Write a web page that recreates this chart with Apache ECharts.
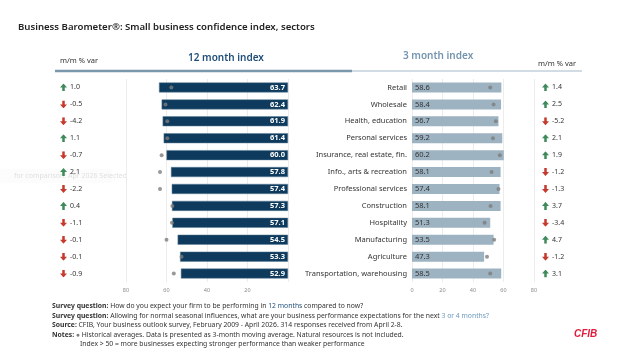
<!DOCTYPE html>
<html><head><meta charset="utf-8">
<script src="https://cdn.jsdelivr.net/npm/echarts@6/dist/echarts.min.js"></script>
<style>html,body{margin:0;padding:0;background:#fff}#c{width:635px;height:362px}</style>
</head><body><div id="c"></div>
<script>
const categories = ['Retail','Wholesale','Health, education','Personal services','Insurance, real estate, fin.','Info., arts & recreation','Professional services','Construction','Hospitality','Manufacturing','Agriculture','Transportation, warehousing'];
const index12 = [63.7,62.4,61.9,61.4,60.0,57.8,57.4,57.3,57.1,54.5,53.3,52.9];
const hist12 = [57.6,60.5,59.6,59.6,62.4,63.2,63.2,57.1,57.3,60.0,52.6,56.4];
const var12 = [1.0,-0.5,-4.2,1.1,-0.7,2.1,-2.2,0.4,-1.1,-0.1,-0.1,-0.9];
const index3 = [58.6,58.4,56.7,59.2,60.2,58.1,57.4,58.1,51.3,53.5,47.3,58.5];
const hist3 = [51.3,53.5,55.0,53.1,57.6,52.2,56.7,51.5,47.6,53.9,49.2,51.3];
const var3 = [1.4,2.5,-5.2,2.1,1.9,-1.2,-1.3,3.7,-3.4,4.7,-1.2,3.1];
const axisTicks = [0,20,40,60,80];

const FF = '"Noto Sans", sans-serif';
function svgUri(s){return 'data:image/svg+xml;charset=utf-8,'+encodeURIComponent(s);}
const upImg = svgUri('<svg xmlns="http://www.w3.org/2000/svg" width="10" height="10" viewBox="0 0 10 10"><polygon points="5,0 10,5 6.8,5 6.8,10 3.2,10 3.2,5 0,5" fill="#3e8a5b"/></svg>');
const dnImg = svgUri('<svg xmlns="http://www.w3.org/2000/svg" width="10" height="10" viewBox="0 0 10 10"><polygon points="5,10 10,5 6.8,5 6.8,0 3.2,0 3.2,5 0,5" fill="#c63a2e"/></svg>');
const varRich = {
  up:{backgroundColor:{image:upImg},width:7,height:8},
  dn:{backgroundColor:{image:dnImg},width:7,height:8},
  v:{fontSize:7,color:'#333',fontFamily:FF,padding:[0,0,0,3]}
};
function varFmt(arr){return function(val, i){const x=arr[i];return (x>=0?'{up|}':'{dn|}')+'{v|'+x.toFixed(1)+'}';};}

const chart = echarts.init(document.getElementById('c'), null, {renderer:'canvas'});
const gridTop = 79, gridH = 203;
const xBase = {type:'value', min:0, max:80, interval:20,
  axisLine:{show:false}, axisTick:{show:false},
  splitLine:{show:true, lineStyle:{color:'#ececec', width:1}},
  axisLabel:{fontSize:5.5, color:'#8a8a8a', margin:5, fontFamily:FF}};
const yBase = {type:'category', data:categories, inverse:true,
  axisLine:{show:false}, axisTick:{show:false}, splitLine:{show:false}};

const FS = 6.8;
const rb = {fontWeight:'bold', fontSize:FS, fontFamily:FF, fill:'#333', color:'#333'};
function rc(c){return {fontSize:FS, fontFamily:FF, fill:c, color:c};}

chart.setOption({
  animation:false,
  grid:[
    {left:126, top:gridTop, width:162, height:gridH},
    {left:412, top:gridTop, width:122, height:gridH}
  ],
  xAxis:[
    Object.assign({}, xBase, {gridIndex:0, inverse:true, axisLabel:Object.assign({}, xBase.axisLabel, {showMinLabel:false})}),
    Object.assign({}, xBase, {gridIndex:1})
  ],
  yAxis:[
    Object.assign({}, yBase, {gridIndex:0, position:'right', axisLabel:{show:false}}),
    Object.assign({}, yBase, {gridIndex:0, position:'left', axisLabel:{show:true, align:'left', margin:66, formatter:varFmt(var12), rich:varRich}}),
    Object.assign({}, yBase, {gridIndex:1, position:'left', axisLabel:{show:true, fontSize:7.5, color:'#333', margin:5, fontFamily:FF}}),
    Object.assign({}, yBase, {gridIndex:1, position:'right', axisLabel:{show:true, align:'left', margin:8, formatter:varFmt(var3), rich:varRich}})
  ],
  series:[
    {type:'bar', xAxisIndex:0, yAxisIndex:0, data:index12, barWidth:10,
     itemStyle:{color:'#0e3b5d', borderColor:'#5d7f99', borderWidth:0.5},
     label:{show:true, position:'insideRight', color:'#fff', fontWeight:'bold', fontSize:7.5, fontFamily:FF, formatter:p=>p.value.toFixed(1), distance:3}},
    {type:'scatter', xAxisIndex:0, yAxisIndex:0, data:hist12, symbolSize:4, itemStyle:{color:'#7d7d7d'}, z:5},
    {type:'bar', xAxisIndex:1, yAxisIndex:2, data:index3, barWidth:10,
     itemStyle:{color:'#9db3c2'},
     label:{show:true, position:'insideLeft', color:'#333', fontSize:7.5, fontFamily:FF, formatter:p=>p.value.toFixed(1), distance:3}},
    {type:'scatter', xAxisIndex:1, yAxisIndex:2, data:hist3, symbolSize:4, itemStyle:{color:'#7d7d7d'}, z:5}
  ],
  graphic:[
    {type:'text', left:18, top:22.5, style:{text:'Business Barometer\u00AE: Small business confidence index, sectors', font:'600 9.6px '+FF, fill:'#222'}},
    {type:'text', left:60, top:57, style:{text:'m/m % var', font:'7.5px '+FF, fill:'#333'}},
    {type:'text', left:188, top:53, style:{text:'12 month index', font:'600 10px '+FF, fill:'#1f4e79'}},
    {type:'text', left:403, top:51, style:{text:'3 month index', font:'600 10px '+FF, fill:'#7394ad'}},
    {type:'text', left:538, top:60, style:{text:'m/m % var', font:'7.5px '+FF, fill:'#333'}},
    {type:'line', shape:{x1:55, y1:71, x2:352, y2:71}, style:{stroke:'#7a97ab', lineWidth:2.5}},
    {type:'line', shape:{x1:352, y1:71, x2:582, y2:71}, style:{stroke:'#a3b8c7', lineWidth:1}},
    {type:'rect', shape:{x:0, y:169, width:112, height:14}, style:{fill:'rgba(250,250,250,0.6)'}},
    {type:'text', left:14, top:172, style:{text:'for comparison: Apr 2026 Selected', font:'7px '+FF, fill:'#e0e0e0'}},
    {type:'text', left:52, top:303, style:{text:'{b|Survey question:}{n| How do you expect your firm to be performing in }{d|12 months}{n| compared to now?}', font:FS+'px '+FF, fill:'#333',
      rich:{b:rb, n:rc('#333'), d:rc('#1f4e79')}}},
    {type:'text', left:52, top:312.5, style:{text:'{b|Survey question:}{n| Allowing for normal seasonal influences, what are your business performance expectations for the next }{l|3 or 4 months?}', font:FS+'px '+FF, fill:'#333',
      rich:{b:rb, n:rc('#333'), l:rc('#6c99bd')}}},
    {type:'text', left:52, top:322, style:{text:'{b|Source:}{n| CFIB, Your business outlook survey, February 2009 - April 2026. 314 responses received from April 2-8.}', font:FS+'px '+FF, fill:'#333',
      rich:{b:rb, n:rc('#333')}}},
    {type:'text', left:52, top:331.5, style:{text:'{b|Notes:}{n| }{g|\u25CF}{n| Historical averages. Data is presented as 3-month moving average. Natural resources is not included.}', font:FS+'px '+FF, fill:'#333',
      rich:{b:rb, n:rc('#333'), g:rc('#7d7d7d')}}},
    {type:'text', left:80, top:340.5, style:{text:'Index > 50 = more businesses expecting stronger performance than weaker performance', font:FS+'px '+FF, fill:'#333'}},
    {type:'text', left:574, top:329, style:{text:'CFIB', font:'italic bold 10px "Liberation Sans", sans-serif', fill:'#e31b3b'}}
  ]
});
</script></body></html>
